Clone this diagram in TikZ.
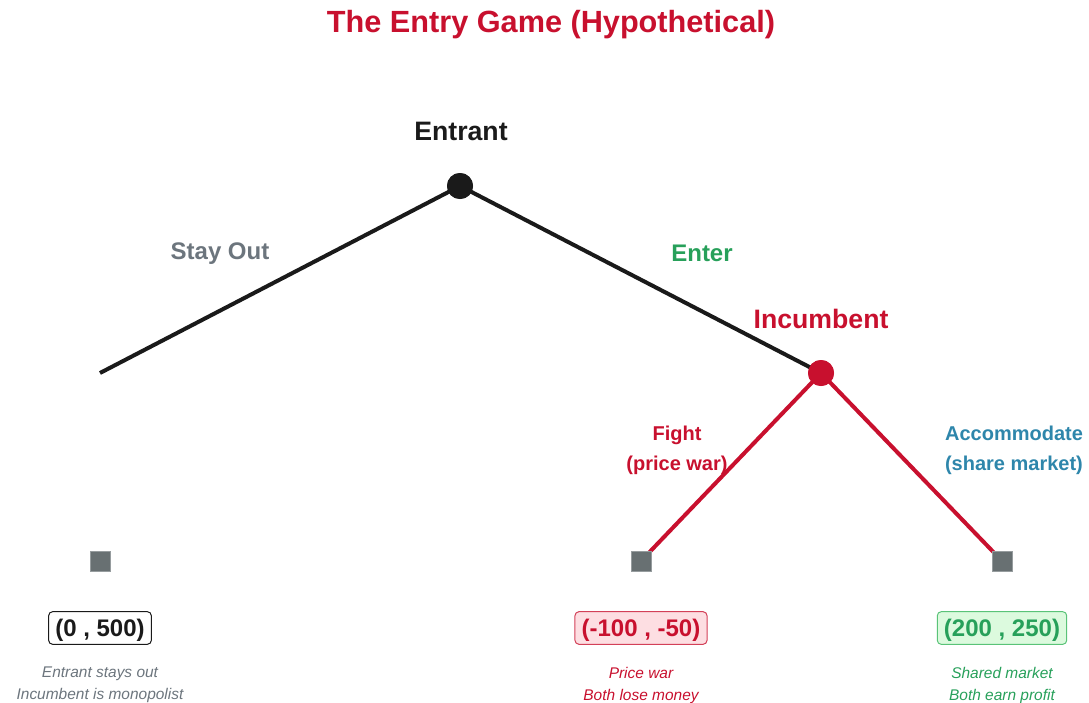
\documentclass[tikz,border=0pt]{standalone}
\usepackage{fontspec}
\setmainfont{Liberation Sans}
\tikzset{every picture/.style={line width=0.75pt}}
\definecolor{treeblack}{RGB}{26,26,26}
\definecolor{treered}{RGB}{200,16,46}
\definecolor{treegreen}{RGB}{39,160,90}
\definecolor{treeblue}{RGB}{46,134,171}
\definecolor{treegray}{RGB}{108,117,125}
\definecolor{leafgray}{RGB}{104,112,114}
\definecolor{redbox}{RGB}{253,222,226}
\definecolor{greenbox}{RGB}{220,250,222}
\definecolor{greenedge}{RGB}{90,195,120}
\tikzset{
  decision/.style={circle, inner sep=0pt, minimum size=19.5pt},
  leaf/.style={rectangle, fill=leafgray, draw={rgb,255:red,150;green,156;blue,158}, line width=0.4pt, inner sep=0pt, minimum size=15pt},
  branch/.style={line width=3pt},
  payoff/.style={rounded corners=3pt, line width=0.75pt, inner xsep=5pt, inner ysep=3.5pt, text height=15pt, text depth=2.5pt, font=\fontsize{18}{20}\selectfont\bfseries},
  note/.style={align=center, font=\fontsize{11.6}{16.5}\selectfont\itshape}
}

\begin{document}
\begin{tikzpicture}[x=0.75pt,y=0.75pt,yscale=-1,xscale=1]
\useasboundingbox (0,0) rectangle (1089,703);

% Title
\node (title) at (551,25) [font=\fontsize{23}{26}\selectfont\bfseries, text=treered] {The Entry Game (Hypothetical)};

%Shape: Circle (decision nodes)
\node (entrant) at (460,186) [decision, fill=treeblack] {};
\node (incumbent) at (821,373) [decision, fill=treered] {};
\coordinate (stayend) at (100,373);

%Shape: Square (terminal nodes)
\node (outleaf) at (100,561) [leaf] {};
\node (fightleaf) at (641,561) [leaf] {};
\node (accleaf) at (1002,561) [leaf] {};

%Straight Lines
\draw [branch, treeblack] (entrant.center) -- (stayend);
\draw [branch, treeblack] (entrant.center) -- (incumbent.center);
\draw [branch, treered] (incumbent.center) -- (fightleaf.center);
\draw [branch, treered] (incumbent.center) -- (accleaf.center);
\node at (entrant) [decision, fill=treeblack] {};
\node at (incumbent) [decision, fill=treered] {};
\node at (fightleaf) [leaf] {};
\node at (accleaf) [leaf] {};

% Text Node
\node (entrantlbl) at (461,131) [font=\fontsize{20}{22}\selectfont\bfseries, text=treeblack] {Entrant};
% Text Node
\node (incumbentlbl) at (821,319) [font=\fontsize{20}{22}\selectfont\bfseries, text=treered] {Incumbent};
% Text Node
\node (staylbl) at (220,254) [font=\fontsize{18}{20}\selectfont\bfseries, text=treegray] {Stay Out};
% Text Node
\node (enterlbl) at (702,253) [font=\fontsize{18}{20}\selectfont\bfseries, text=treegreen] {Enter};
% Text Node
\node (fightlbl) at (677,450) [align=center, font=\fontsize{15}{22.5}\selectfont\bfseries, text=treered] {Fight\\(price war)};
% Text Node
\node (acclbl) at (1014,450) [align=center, font=\fontsize{15}{22.5}\selectfont\bfseries, text=treeblue] {Accommodate\\(share market)};

% Payoffs
\node (outpay) at (100,628) [payoff, draw=treeblack, fill=white, text=treeblack] {(0 , 500)};
\node (fightpay) at (641,628) [payoff, draw=treered!80, fill=redbox, text=treered] {(-100 , -50)};
\node (accpay) at (1002,628) [payoff, draw=greenedge, fill=greenbox, text=treegreen] {(200 , 250)};

% Notes
\node (outnote) at (100,685) [note, text=treegray] {Entrant stays out\\Incumbent is monopolist};
\node (fightnote) at (641,685) [note, text=treered] {Price war\\Both lose money};
\node (accnote) at (1002,685) [note, text=treegreen] {Shared market\\Both earn profit};

\end{tikzpicture}
\end{document}
